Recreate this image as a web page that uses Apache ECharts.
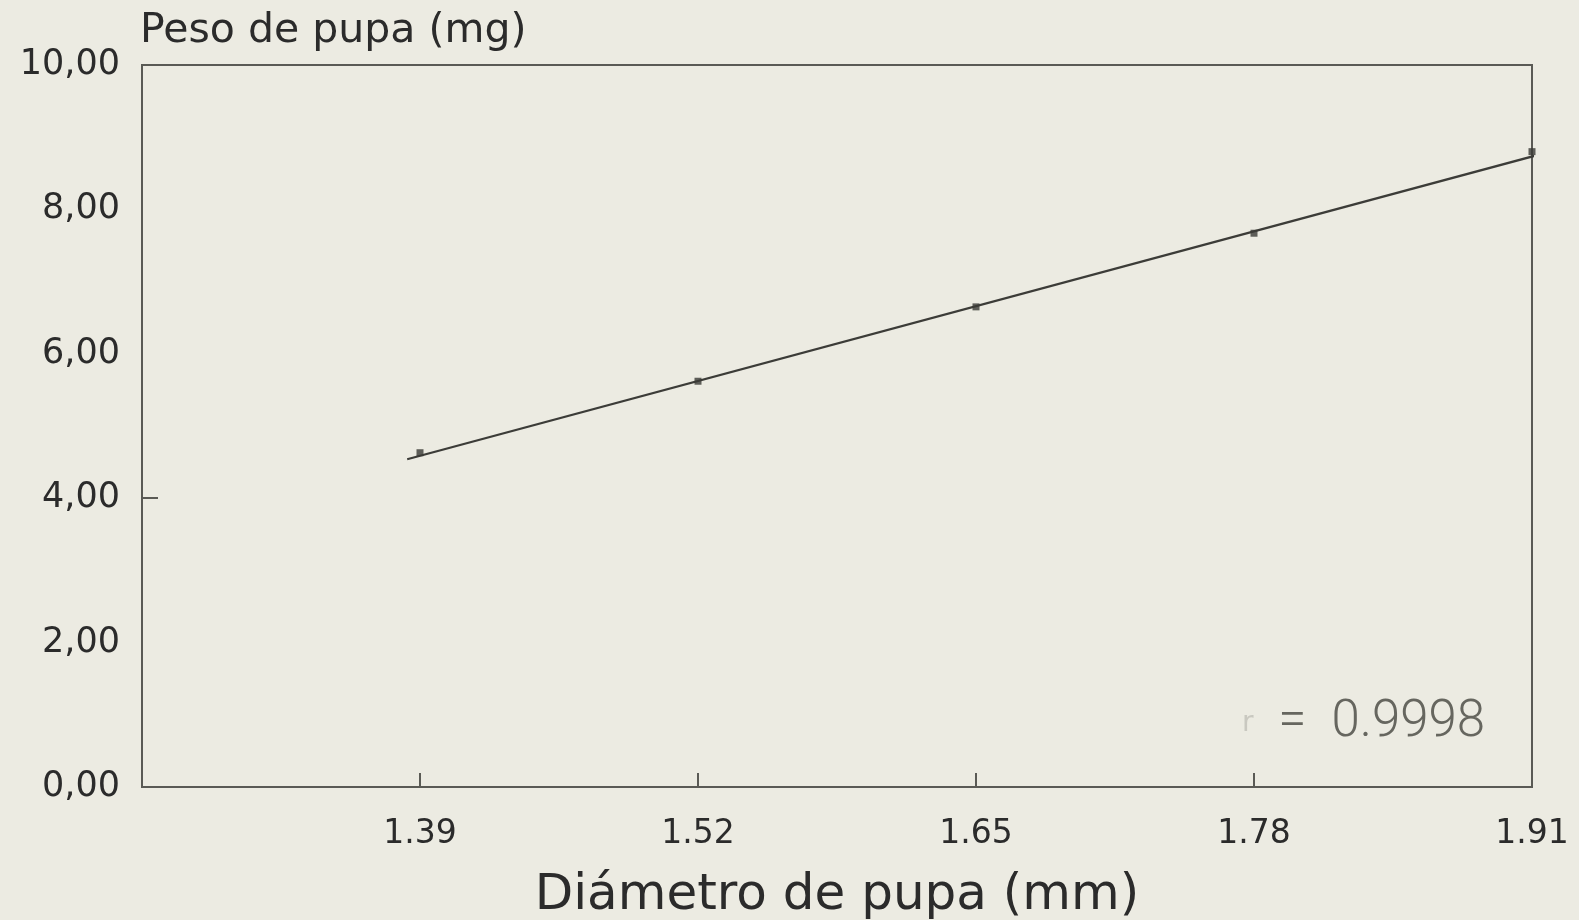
<!DOCTYPE html>
<html>
<head>
<meta charset="utf-8">
<script src="https://cdn.jsdelivr.net/npm/echarts@6/dist/echarts.min.js"></script>
<style>
html,body{margin:0;padding:0;background:#ecebe2;}
#chart{width:1579px;height:920px;}
</style>
</head>
<body>
<div id="chart"></div>
<script>
// Data
const diametro = [1.39, 1.52, 1.65, 1.78, 1.91];
const peso = [4.63, 5.62, 6.65, 7.67, 8.80];
const rectaX = [1.384, 1.921];
const rectaY = [4.54, 8.82];
const xTicks = { min: 1.26, max: 1.91, step: 0.13 };
const yTicks = { min: 0, max: 10, step: 2 };
const yTickMarks = [4];
const yTitle = 'Peso de pupa (mg)';
const xTitle = 'Diámetro de pupa (mm)';
const rText = '0.9998';

const chart = echarts.init(document.getElementById('chart'));
const txt = '#2b2b2b';
const axisCol = '#5a5a55';
const font = '"DejaVu Sans", "Liberation Sans", sans-serif';
const gridTop = 65, gridBottom = 133, tickLen = 14;

chart.setOption({
  backgroundColor: '#ecebe2',
  animation: false,
  grid: [
    { left: 142, right: 47, top: gridTop, bottom: gridBottom, show: true, borderColor: axisCol, borderWidth: 2, backgroundColor: 'transparent', outerBoundsMode: 'none' },
    // thin strip on the bottom edge: its split lines act as tick marks pointing up into the plot
    { left: 142, right: 47, bottom: gridBottom, height: tickLen, show: false, outerBoundsMode: 'none' },
    // thin strip on the left edge for the single y tick mark
    { left: 142, width: 16, top: gridTop, bottom: gridBottom, show: false, outerBoundsMode: 'none' }
  ],
  xAxis: [{
    type: 'value', gridIndex: 0, min: xTicks.min, max: xTicks.max, interval: xTicks.step,
    name: xTitle, nameLocation: 'middle', nameGap: 84,
    nameTextStyle: { fontFamily: font, fontSize: 50, color: txt },
    axisLine: { show: true, lineStyle: { color: axisCol, width: 2 } },
    axisTick: { show: false },
    splitLine: { show: false },
    axisLabel: {
      margin: 31, fontFamily: font, fontSize: 33, color: txt,
      formatter: v => Math.abs(v - xTicks.min) < 1e-6 ? '' : v.toFixed(2)
    }
  }, {
    type: 'value', gridIndex: 1, min: xTicks.min, max: xTicks.max, interval: xTicks.step,
    axisLine: { show: false }, axisTick: { show: false }, axisLabel: { show: false },
    splitLine: { show: true, lineStyle: { color: axisCol, width: 2 } }
  }, {
    type: 'value', gridIndex: 2, min: 0, max: 1, show: false, splitLine: { show: false }
  }],
  yAxis: [{
    type: 'value', gridIndex: 0, min: yTicks.min, max: yTicks.max, interval: yTicks.step,
    axisLine: { show: true, lineStyle: { color: axisCol, width: 2 } },
    axisTick: { show: false },
    splitLine: { show: false },
    axisLabel: {
      margin: 22, fontFamily: font, fontSize: 35, color: txt,
      formatter: v => v.toFixed(2).replace('.', ',')
    }
  }, {
    type: 'value', gridIndex: 1, show: false, splitLine: { show: false }
  }, {
    type: 'value', gridIndex: 2, min: yTicks.min, max: yTicks.max, show: false, splitLine: { show: false }
  }],
  graphic: [
    { type: 'text', left: 140, top: 11, style: { text: yTitle, font: '41px ' + font, fill: txt } },
    { type: 'text', left: 1242, top: 698, style: {
        text: '{r|r}  =  ' + rText,
        rich: { r: { fontFamily: font, fontSize: 28, fill: '#c9c8c0' } },
        font: '300 51px Roboto, "Liberation Sans", sans-serif', fill: '#66665f' } }
  ],
  series: [
    {
      type: 'line', xAxisIndex: 0, yAxisIndex: 0, data: rectaX.map((x, i) => [x, rectaY[i]]),
      showSymbol: false, clip: false,
      lineStyle: { color: '#3c3c38', width: 2.2 }, z: 3
    },
    {
      type: 'scatter', xAxisIndex: 0, yAxisIndex: 0, data: diametro.map((x, i) => [x, peso[i]]),
      symbol: 'rect', symbolSize: 7, itemStyle: { color: '#3a3a36' }, z: 4
    },
    {
      type: 'line', xAxisIndex: 2, yAxisIndex: 2, data: [], silent: true,
      markLine: {
        silent: true, symbol: ['none', 'none'], label: { show: false },
        lineStyle: { color: axisCol, width: 2, type: 'solid' },
        data: yTickMarks.map(v => ({ yAxis: v }))
      }
    }
  ]
});
</script>
</body>
</html>
